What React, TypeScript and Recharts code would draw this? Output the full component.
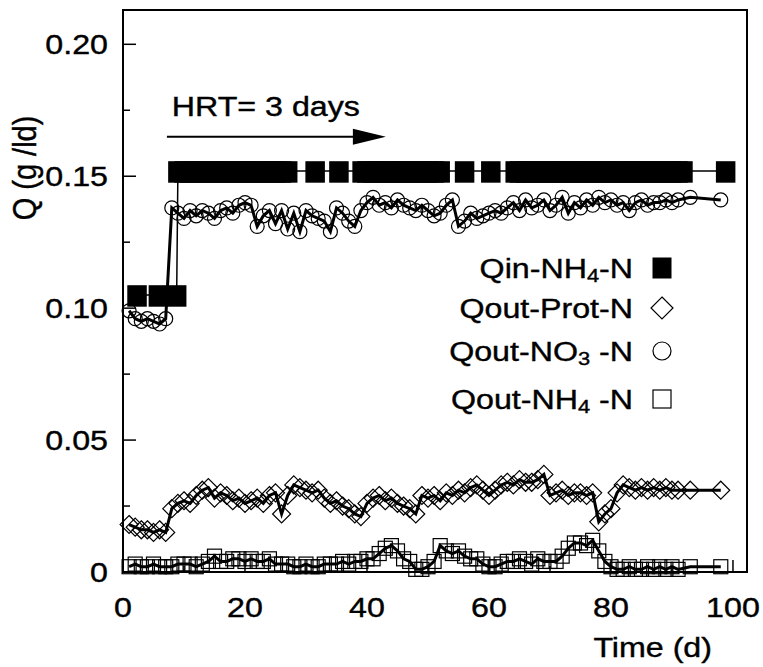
import React from 'react'
import { LineChart, Line, XAxis, YAxis, ReferenceArea, ReferenceDot, ReferenceLine, Legend } from 'recharts'

const FONT = '"Liberation Sans", Arial, Helvetica, sans-serif'
const SX = 1.15 // the scanned figure is a bit stretched horizontally

const W = 763
const H = 667
const PLOT_LEFT = 123
const PLOT_TOP = 10
const PLOT_RIGHT = 747
const PLOT_BOTTOM = 572
const X_MAX = 102.3
const Y_MAX = 0.213

// sampling days of the effluent
const outDays = [
  1, 2, 3, 4, 5, 6, 7, 8, 9, 10,
  11, 12, 13, 14, 15, 16, 17, 18, 19, 20,
  21, 22, 23, 24, 25, 26, 27, 28, 29, 30,
  31, 32, 33, 34, 35, 36, 37, 38, 39, 40,
  41, 42, 43, 44, 45, 46, 47, 48, 49, 50,
  51, 52, 53, 54, 55, 56, 57, 58, 59, 60,
  61, 62, 63, 64, 65, 66, 67, 68, 69, 70,
  71, 72, 73, 74, 75, 76, 77, 78, 79, 80,
  81, 82, 83, 84, 85, 86, 87, 88, 89, 90,
  91, 93, 98,
]

const no3Out = [
  0.099, 0.096, 0.095, 0.096, 0.095, 0.094, 0.096, 0.138, 0.136, 0.134,
  0.137, 0.135, 0.137, 0.136, 0.134, 0.137, 0.138, 0.136, 0.139, 0.140,
  0.139, 0.131, 0.135, 0.137, 0.132, 0.137, 0.130, 0.136, 0.129, 0.137,
  0.135, 0.134, 0.133, 0.129, 0.138, 0.136, 0.133, 0.131, 0.137, 0.140,
  0.142, 0.139, 0.140, 0.138, 0.141, 0.139, 0.138, 0.137, 0.139, 0.137,
  0.135, 0.136, 0.139, 0.141, 0.131, 0.133, 0.136, 0.134, 0.135, 0.136,
  0.137, 0.136, 0.138, 0.140, 0.137, 0.141, 0.138, 0.139, 0.141, 0.137,
  0.139, 0.142, 0.136, 0.140, 0.138, 0.141, 0.139, 0.142, 0.140, 0.141,
  0.139, 0.140, 0.137, 0.140, 0.141, 0.139, 0.140, 0.140, 0.141, 0.140,
  0.141, 0.142, 0.141,
]

const protOut = [
  0.018, 0.017, 0.016, 0.016, 0.015, 0.016, 0.015, 0.024, 0.026, 0.027,
  0.026, 0.029, 0.031, 0.032, 0.028, 0.030, 0.029, 0.027, 0.028, 0.026,
  0.027, 0.028, 0.026, 0.029, 0.030, 0.022, 0.029, 0.033, 0.032, 0.031,
  0.030, 0.031, 0.028, 0.026, 0.027, 0.025, 0.024, 0.022, 0.021, 0.026,
  0.028, 0.029, 0.027, 0.028, 0.026, 0.025, 0.024, 0.022, 0.029, 0.028,
  0.029, 0.027, 0.030, 0.029, 0.031, 0.030, 0.032, 0.033, 0.031, 0.029,
  0.031, 0.033, 0.034, 0.033, 0.035, 0.034, 0.034, 0.035, 0.037, 0.029,
  0.030, 0.031, 0.029, 0.030, 0.030, 0.029, 0.030, 0.019, 0.022, 0.024,
  0.030, 0.033, 0.032, 0.031, 0.032, 0.031, 0.032, 0.031, 0.032, 0.031,
  0.031, 0.031, 0.031,
]

const nh4Out = [
  0.002, 0.003, 0.002, 0.002, 0.003, 0.002, 0.002, 0.002, 0.003, 0.003,
  0.003, 0.002, 0.003, 0.004, 0.006, 0.004, 0.004, 0.005, 0.005, 0.004,
  0.005, 0.004, 0.004, 0.005, 0.003, 0.003, 0.003, 0.002, 0.002, 0.003,
  0.002, 0.002, 0.003, 0.003, 0.003, 0.004, 0.003, 0.004, 0.004, 0.005,
  0.005, 0.007, 0.009, 0.010, 0.008, 0.005, 0.004, 0.001, 0.001, 0.002,
  0.004, 0.010, 0.008, 0.007, 0.008, 0.006, 0.005, 0.005, 0.003, 0.002,
  0.002, 0.003, 0.004, 0.004, 0.005, 0.004, 0.003, 0.005, 0.004, 0.004,
  0.004, 0.006, 0.009, 0.011, 0.011, 0.010, 0.012, 0.008, 0.004, 0.002,
  0.001, 0.001, 0.002, 0.001, 0.001, 0.002, 0.001, 0.002, 0.001, 0.002,
  0.001, 0.002, 0.002,
]

// influent load, sampled on its own days
const qinDays = [
  2.3, 5.8, 8.8,
  9, 10, 11, 12, 13, 14, 15, 16, 17, 18, 19, 20, 21, 22, 23, 24, 25, 26, 27,
  31.5, 35.4,
  39.2, 40, 41, 42, 43, 44, 45, 46, 47, 48, 49, 50, 51, 52,
  56, 60.3,
  64.3, 65, 66, 67, 68, 69, 70, 71, 72, 73, 74, 75, 76, 77, 78, 79, 80,
  81, 82, 83, 84, 85, 86, 87, 88, 89, 90, 91, 91.8,
  98.8,
]

const qinValues = [
  0.105, 0.105, 0.105,
  0.152, 0.152, 0.152, 0.152, 0.152, 0.152, 0.152, 0.152, 0.152, 0.152,
  0.152, 0.152, 0.152, 0.152, 0.152, 0.152, 0.152, 0.152, 0.152,
  0.152, 0.152,
  0.152, 0.152, 0.152, 0.152, 0.152, 0.152, 0.152, 0.152, 0.152, 0.152,
  0.152, 0.152, 0.152, 0.152,
  0.152, 0.152,
  0.152, 0.152, 0.152, 0.152, 0.152, 0.152, 0.152, 0.152, 0.152, 0.152,
  0.152, 0.152, 0.152, 0.152, 0.152, 0.152, 0.152, 0.152, 0.152, 0.152,
  0.152, 0.152, 0.152, 0.152, 0.152, 0.152, 0.152, 0.152, 0.152,
  0.152,
]

const yTicks = [0, 0.025, 0.05, 0.075, 0.1, 0.125, 0.15, 0.175, 0.2]
const yTickLabels = ['0', '', '0.05', '', '0.10', '', '0.15', '', '0.20']
const xTicks = [0, 10, 20, 30, 40, 50, 60, 70, 80, 90, 100]
const xTickLabels = ['0', '', '20', '', '40', '', '60', '', '80', '', '100']

const toRows = (days: number[], values: number[]) => days.map((d, i) => ({ day: d, q: values[i] }))
const qinData = toRows(qinDays, qinValues)
const protData = toRows(outDays, protOut)
const no3Data = toRows(outDays, no3Out)
const nh4Data = toRows(outDays, nh4Out)

// a thin stroke on the glyphs mimics the heavier print of the scan
const textStyle = { fontFamily: FONT, fontSize: 28, fill: '#000', stroke: '#000', strokeWidth: 0.4 }

// marker shapes
const FilledSquare = ({ cx, cy, s = 19.5 }: any) => (
  <rect x={cx - s / 2} y={cy - s / 2} width={s} height={s + 2} fill="#000" />
)
const OpenSquare = ({ cx, cy, s = 14 }: any) => (
  <rect x={cx - s / 2} y={cy - s / 2} width={s} height={s} fill="none" stroke="#000" strokeWidth={1.2} />
)
const Diamond = ({ cx, cy, r = 9 }: any) => (
  <polygon
    points={`${cx},${cy - r} ${cx + r},${cy} ${cx},${cy + r} ${cx - r},${cy}`}
    fill="none"
    stroke="#000"
    strokeWidth={1.2}
  />
)
const Ring = ({ cx, cy, r = 7 }: any) => (
  <circle cx={cx} cy={cy} r={r} fill="none" stroke="#000" strokeWidth={1.2} />
)

const dotOf = (Shape: any) => (props: any) => (
  <Shape key={`d-${props.index}`} cx={props.cx} cy={props.cy} />
)

const YTick = ({ y, payload }: any) => {
  const i = yTicks.findIndex(t => Math.abs(t - payload.value) < 1e-9)
  const label = yTickLabels[i] || ''
  const len = label ? 13 : 7
  return (
    <g>
      <line x1={PLOT_LEFT} x2={PLOT_LEFT + len} y1={y} y2={y} stroke="#000" strokeWidth={1.5} />
      {label && (
        <text transform={`translate(${PLOT_LEFT - 15},${y + 10}) scale(${SX},1)`} textAnchor="end" {...textStyle}>
          {label}
        </text>
      )}
    </g>
  )
}

const XTick = ({ x, payload }: any) => {
  const i = xTicks.findIndex(t => t === payload.value)
  const label = xTickLabels[i] || ''
  const len = label ? 12 : 6
  return (
    <g>
      <line x1={x} x2={x} y1={PLOT_BOTTOM} y2={PLOT_BOTTOM - len} stroke="#000" strokeWidth={1.5} />
      {label && (
        <text transform={`translate(${x},${PLOT_BOTTOM + 45}) scale(${SX},1)`} textAnchor="middle" {...textStyle}>
          {label}
        </text>
      )}
    </g>
  )
}

const legendItems = [
  { name: 'Qin-NH', sub: '4', tail: '-N', Shape: FilledSquare },
  { name: 'Qout-Prot-N', sub: '', tail: '', Shape: Diamond },
  { name: 'Qout-NO', sub: '3', tail: ' -N', Shape: Ring },
  { name: 'Qout-NH', sub: '4', tail: ' -N', Shape: OpenSquare },
]
const legendRows = [268, 308, 351, 399]

const LegendBox = () => (
  <svg width={W} height={H} style={{ display: 'block', pointerEvents: 'none' }}>
    {legendItems.map((it, i) => {
      const cy = legendRows[i]
      return (
        <g key={it.name}>
          <text transform={`translate(633,${cy + 10}) scale(${SX},1)`} textAnchor="end" {...textStyle}>
            {it.name}
            {it.sub && (
              <tspan fontSize={19} dy={4}>
                {it.sub}
              </tspan>
            )}
            {it.tail && <tspan dy={it.sub ? -4 : 0}>{it.tail}</tspan>}
          </text>
          {it.Shape === FilledSquare && <FilledSquare cx={662} cy={cy - 1} s={19} />}
          {it.Shape === Diamond && <Diamond cx={662} cy={cy} r={11} />}
          {it.Shape === Ring && <Ring cx={662} cy={cy} r={9} />}
          {it.Shape === OpenSquare && <OpenSquare cx={662} cy={cy} s={18} />}
        </g>
      )
    })}
  </svg>
)

const ArrowHead = ({ cx, cy }: any) => (
  <polygon points={`${cx},${cy} ${cx - 33},${cy - 8} ${cx - 33},${cy + 8}`} fill="#000" />
)

const HrtText = ({ cx, cy }: any) => (
  <text transform={`translate(${cx},${cy}) scale(${SX},1)`} textAnchor="start" {...textStyle}>
    HRT= 3 days
  </text>
)

export default function App() {
  return (
    <div style={{ position: 'absolute', left: 0, top: 0, width: W, height: H, background: '#fff' }}>
      <LineChart
        width={W}
        height={H}
        margin={{ top: PLOT_TOP, right: W - PLOT_RIGHT, left: 0, bottom: 35 }}
      >
        <XAxis
          type="number"
          dataKey="day"
          domain={[0, X_MAX]}
          ticks={xTicks}
          interval={0}
          axisLine={false}
          tickLine={false}
          tick={<XTick />}
          height={H - PLOT_BOTTOM - 35}
          allowDuplicatedCategory={false}
          label={{
            content: () => (
              <text transform={`translate(712,${PLOT_BOTTOM + 85}) scale(${SX},1)`} textAnchor="end" {...textStyle}>
                Time (d)
              </text>
            ),
          }}
        />
        <YAxis
          type="number"
          domain={[0, Y_MAX]}
          ticks={yTicks}
          interval={0}
          axisLine={false}
          tickLine={false}
          tick={<YTick />}
          width={PLOT_LEFT}
          label={{
            content: () => (
              <text
                transform={`translate(36,168) scale(${SX},1) rotate(-90)`}
                textAnchor="middle"
                {...textStyle}
                fontSize={29}
              >
                Q (g /ld)
              </text>
            ),
          }}
        />
        <ReferenceArea
          x1={0}
          x2={X_MAX}
          y1={0}
          y2={Y_MAX}
          fill="none"
          stroke="#000"
          strokeWidth={2}
          ifOverflow="visible"
        />
        <ReferenceLine
          segment={[{ x: 7.2, y: 0.165 }, { x: 40, y: 0.165 }]}
          stroke="#000"
          strokeWidth={2}
        />
        <ReferenceDot x={43.1} y={0.165} r={1} shape={<ArrowHead />} />
        <ReferenceDot x={8} y={0.1727} r={1} shape={<HrtText />} />

        <Line
          data={qinData}
          dataKey="q"
          name="Qin-NH4-N"
          type="linear"
          stroke="#000"
          strokeWidth={1.5}
          dot={dotOf(FilledSquare)}
          activeDot={false}
          isAnimationActive={false}
        />
        <Line
          data={no3Data}
          dataKey="q"
          name="Qout-NO3-N"
          type="linear"
          stroke="#000"
          strokeWidth={3}
          dot={dotOf(Ring)}
          activeDot={false}
          isAnimationActive={false}
        />
        <Line
          data={protData}
          dataKey="q"
          name="Qout-Prot-N"
          type="linear"
          stroke="#000"
          strokeWidth={3}
          dot={dotOf(Diamond)}
          activeDot={false}
          isAnimationActive={false}
        />
        <Line
          data={nh4Data}
          dataKey="q"
          name="Qout-NH4-N"
          type="linear"
          stroke="#000"
          strokeWidth={3}
          dot={dotOf(OpenSquare)}
          activeDot={false}
          isAnimationActive={false}
        />
        <Legend
          layout="horizontal"
          verticalAlign="middle"
          align="center"
          content={() => <LegendBox />}
          wrapperStyle={{ position: 'absolute', left: 0, top: 0, width: W, height: H, margin: 0 }}
        />
      </LineChart>
    </div>
  )
}
